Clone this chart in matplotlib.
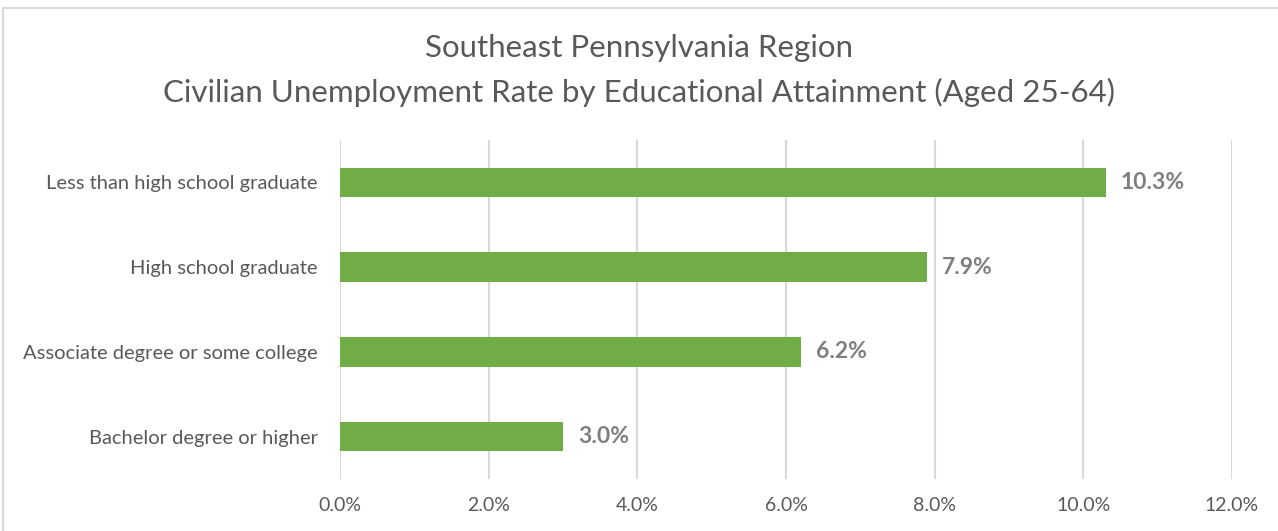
import matplotlib.pyplot as plt
from matplotlib.patches import Rectangle

categories = ["Less than high school graduate", "High school graduate",
              "Associate degree or some college", "Bachelor degree or higher"]
rates = [10.3, 7.9, 6.2, 3.0]
ticks = [0, 2, 4, 6, 8, 10, 12]

plt.rcParams['font.family'] = ['Lato', 'DejaVu Sans']

fig = plt.figure(figsize=(12.78, 5.31), dpi=100)
ax = fig.add_axes([340/1278, 1-479/531, (1232-340)/1278, (479-140)/531])

# chart border (only top and left visible in the crop)
fig.patches.append(Rectangle((3/1278, -0.1), 1.2, 1-8/531+0.1, transform=fig.transFigure,
                             fill=False, edgecolor="#d9d9d9", linewidth=1.5))

ypos = list(range(len(categories)))
ax.barh(ypos, rates, height=0.35, color="#70ad47", zorder=3)
for y, v in zip(ypos, rates):
    ax.text(v + 0.2, y, f"{v:.1f}%", va="center", ha="left", fontsize=16.5,
            fontweight="bold", color="#7f7f7f")

ax.set_ylim(len(categories) - 0.5, -0.5)
ax.set_yticks(ypos)
ax.set_yticklabels(categories, fontsize=14.5, color="#595959")
ax.set_xlim(0, 12)
ax.set_xticks(ticks)
ax.set_xticklabels([f"{t:.1f}%" for t in ticks], fontsize=14, color="#595959")
ax.tick_params(length=0)
ax.tick_params(axis="x", pad=13)
ax.tick_params(axis="y", pad=16)
ax.grid(axis="x", color="#d9d9d9", linewidth=1.5, zorder=0)
for s in ax.spines.values():
    s.set_visible(False)

fig.text(0.5, 1-48/531, "Southeast Pennsylvania Region", ha="center", va="center",
         fontsize=22.5, color="#595959")
fig.text(0.5, 1-92/531, "Civilian Unemployment Rate by Educational Attainment (Aged 25-64)",
         ha="center", va="center", fontsize=22.5, color="#595959")

fig.savefig("out.png", dpi=100)
